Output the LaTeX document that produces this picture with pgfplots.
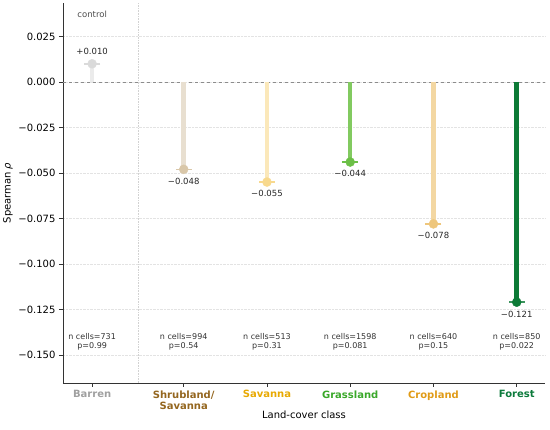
\documentclass[border=0pt]{standalone}
\usepackage{pgfplots}
\pgfplotsset{compat=1.18}
\usepackage{fontspec}
\setmainfont{DejaVu Sans}
\definecolor{lBarren}{HTML}{A0A0A0}
\definecolor{sBarren}{HTML}{EBEBEB}
\definecolor{mBarren}{HTML}{DADADA}
\definecolor{lShrub}{HTML}{94661F}
\definecolor{sShrub}{HTML}{E8DFD0}
\definecolor{mShrub}{HTML}{D9C7A9}
\definecolor{lSav}{HTML}{E8A902}
\definecolor{sSav}{HTML}{FBE8BA}
\definecolor{mSav}{HTML}{F8D98E}
\definecolor{lGrass}{HTML}{3AA82A}
\definecolor{sGrass}{HTML}{82CA60}
\definecolor{mGrass}{HTML}{6CBF47}
\definecolor{lCrop}{HTML}{E09B17}
\definecolor{sCrop}{HTML}{F3D7A2}
\definecolor{mCrop}{HTML}{EEC67C}
\definecolor{lFor}{HTML}{0B7A3B}
\definecolor{sFor}{HTML}{0C7A36}
\definecolor{mFor}{HTML}{0C7A36}
\definecolor{spine}{HTML}{333333}
\begin{document}
\begin{tikzpicture}[x=1pt,y=1pt]
\useasboundingbox (0,0) rectangle (550,430);
\begin{axis}[
  at={(63pt,47pt)}, anchor=south west,
  scale only axis, width=482pt, height=380pt,
  xmin=-0.35, xmax=5.44, ymin=-0.1654, ymax=0.0434,
  axis x line*=bottom, axis y line*=left,
  axis line style={spine, line width=0.8pt, -},
  tick style={spine, line width=0.8pt},
  tick align=outside, major tick length=4pt,
  xtick={0,1.1,2.1,3.1,4.1,5.1},
  xticklabels={\textcolor{lBarren}{\textbf{Barren}},
    {\textcolor{lShrub}{\textbf{Shrubland/}}\\\textcolor{lShrub}{\textbf{Savanna}}},
    \textcolor{lSav}{\textbf{Savanna}},
    \textcolor{lGrass}{\textbf{Grassland}},
    \textcolor{lCrop}{\textbf{Cropland}},
    \textcolor{lFor}{\textbf{Forest}}},
  xticklabel style={align=center, font=\fontsize{10}{11.5}\selectfont, yshift=0pt},
  ytick={-0.150,-0.125,-0.100,-0.075,-0.050,-0.025,0,0.025},
  yticklabels={−0.150,−0.125,−0.100,−0.075,−0.050,−0.025,0.000,0.025},
  yticklabel style={font=\fontsize{10}{12}\selectfont},
  ymajorgrids, grid style={densely dotted, gray!22, line width=0.5pt},
  xlabel={Land-cover class}, ylabel={Spearman \textit{ρ}},
  label style={font=\fontsize{10}{12}\selectfont},
  every axis x label/.style={at={(axis description cs:0.5,0)}, anchor=center, yshift=-32pt},
  every axis y label/.style={at={(axis description cs:0,0.5)}, anchor=center, rotate=90, yshift=55pt},
  clip=false,
]
% separator and zero line
\addplot[gray!35, densely dotted, line width=0.6pt] coordinates {(0.55,-0.1654) (0.55,0.0434)};
\addplot[gray!90, dashed, line width=0.8pt] coordinates {(-0.35,0) (5.44,0)};
% stems
\addplot[sBarren, line width=4.5pt] coordinates {(0,0) (0,0.010)};
\addplot[sShrub, line width=4.5pt] coordinates {(1.1,0) (1.1,-0.048)};
\addplot[sSav, line width=4.5pt] coordinates {(2.1,0) (2.1,-0.055)};
\addplot[sGrass, line width=4.5pt] coordinates {(3.1,0) (3.1,-0.044)};
\addplot[sCrop, line width=4.5pt] coordinates {(4.1,0) (4.1,-0.078)};
\addplot[sFor, line width=4.5pt] coordinates {(5.1,0) (5.1,-0.121)};
% markers
\addplot[only marks, mark=-, mark size=8pt, mBarren, line width=1.5pt] coordinates {(0,0.010)};
\addplot[only marks, mark=*, mark size=4.5pt, mBarren, mark options={draw=mBarren, fill=mBarren}] coordinates {(0,0.010)};
\addplot[only marks, mark=-, mark size=8pt, mShrub, line width=1.5pt] coordinates {(1.1,-0.048)};
\addplot[only marks, mark=*, mark size=4.5pt, mark options={draw=mShrub, fill=mShrub}] coordinates {(1.1,-0.048)};
\addplot[only marks, mark=-, mark size=8pt, mSav, line width=1.5pt] coordinates {(2.1,-0.055)};
\addplot[only marks, mark=*, mark size=4.5pt, mark options={draw=mSav, fill=mSav}] coordinates {(2.1,-0.055)};
\addplot[only marks, mark=-, mark size=8pt, mGrass, line width=1.5pt] coordinates {(3.1,-0.044)};
\addplot[only marks, mark=*, mark size=4.5pt, mark options={draw=mGrass, fill=mGrass}] coordinates {(3.1,-0.044)};
\addplot[only marks, mark=-, mark size=8pt, mCrop, line width=1.5pt] coordinates {(4.1,-0.078)};
\addplot[only marks, mark=*, mark size=4.5pt, mark options={draw=mCrop, fill=mCrop}] coordinates {(4.1,-0.078)};
\addplot[only marks, mark=-, mark size=8pt, mFor!80, line width=1.5pt] coordinates {(5.1,-0.121)};
\addplot[only marks, mark=*, mark size=4.5pt, mark options={draw=mFor, fill=mFor}] coordinates {(5.1,-0.121)};
% value labels
\begin{scope}[every node/.style={font=\fontsize{8.5}{10}\selectfont, text=black!85}]
\node[anchor=south] at (axis cs:0,0.010) [yshift=6pt] {+0.010};
\node[anchor=north] at (axis cs:1.1,-0.048) [yshift=-5pt] {−0.048};
\node[anchor=north] at (axis cs:2.1,-0.055) [yshift=-5pt] {−0.055};
\node[anchor=north] at (axis cs:3.1,-0.044) [yshift=-5pt] {−0.044};
\node[anchor=north] at (axis cs:4.1,-0.078) [yshift=-5pt] {−0.078};
\node[anchor=north] at (axis cs:5.1,-0.121) [yshift=-5pt] {−0.121};
\end{scope}
\begin{scope}[every node/.style={font=\fontsize{8}{9.5}\selectfont, text=black!80, align=center, anchor=center}]
\node at (axis cs:0,-0.1428) {n cells=731\\p=0.99};
\node at (axis cs:1.1,-0.1428) {n cells=994\\p=0.54};
\node at (axis cs:2.1,-0.1428) {n cells=513\\p=0.31};
\node at (axis cs:3.1,-0.1428) {n cells=1598\\p=0.081};
\node at (axis cs:4.1,-0.1428) {n cells=640\\p=0.15};
\node at (axis cs:5.1,-0.1428) {n cells=850\\p=0.022};
\end{scope}
\node[font=\fontsize{8.5}{10}\selectfont, text=black!70] at (axis cs:0,0.0374) {control};
\end{axis}
\end{tikzpicture}
\end{document}
